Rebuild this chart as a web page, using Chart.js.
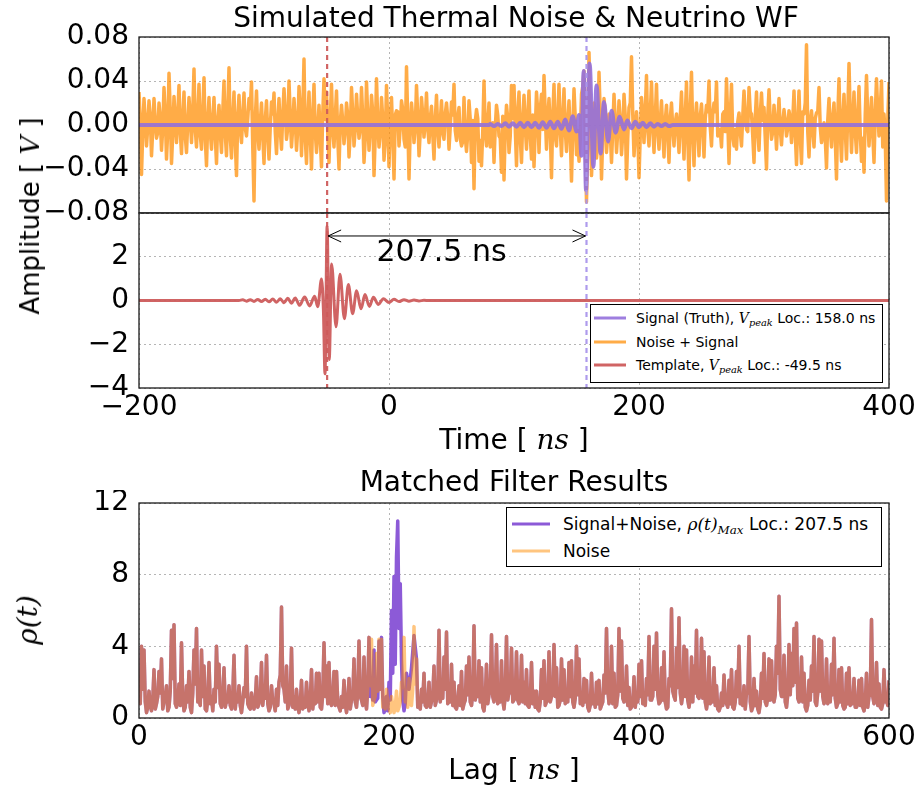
<!DOCTYPE html>
<html><head><meta charset="utf-8">
<script src="https://cdn.jsdelivr.net/npm/chart.js@4.4.0/dist/chart.umd.min.js"></script>
<style>
body{margin:0;background:#fff;width:919px;height:789px;overflow:hidden;position:relative;font-family:"DejaVu Sans",sans-serif;color:#000;}
canvas{position:absolute;left:0;}
.t{position:absolute;white-space:nowrap;transform:translate(-50%,-50%);line-height:1;}
.rot{transform:translate(-50%,-50%) rotate(-90deg);}
.m{font-family:"DejaVu Serif",serif;font-style:italic;}
.sub{font-family:"DejaVu Serif",serif;font-style:italic;font-size:70%;position:relative;top:0.3em;}
.lg{position:absolute;border:1px solid #000;background:#fff;box-sizing:border-box;}
.row{position:absolute;white-space:nowrap;line-height:1;transform:translateY(-50%);}
.ln{position:absolute;height:3px;transform:translateY(-50%);}
</style></head>
<body>
<canvas id="cTop" width="919" height="240" style="top:0px"></canvas>
<canvas id="cMid" width="919" height="260" style="top:200px"></canvas>
<canvas id="cBot" width="919" height="299" style="top:490px"></canvas>

<div class="t" style="left:516px;top:18px;font-size:28px;">Simulated Thermal Noise &amp; Neutrino WF</div>
<div class="t rot" style="left:30px;top:216px;font-size:26px;">Amplitude [ <span class="m">V</span> ]</div>
<div class="t" style="left:514px;top:440px;font-size:28px;">Time [ <span class="m">ns</span> ]</div>
<div class="t" style="left:514px;top:482px;font-size:28px;">Matched Filter Results</div>
<div class="t rot" style="left:28px;top:620px;font-size:28px;"><span class="m">ρ(t)</span></div>
<div class="t" style="left:514px;top:770px;font-size:28px;">Lag [ <span class="m">ns</span> ]</div>

<div class="lg" style="left:590px;top:304px;width:293px;height:79px;font-size:14px;">
  <div class="ln" style="left:3px;top:13px;width:32px;background:rgba(147,112,219,0.9);"></div>
  <div class="row" style="left:45px;top:13px;">Signal (Truth), <span class="m">V</span><span class="sub">peak</span> Loc.: 158.0 ns</div>
  <div class="ln" style="left:3px;top:37px;width:32px;background:rgba(255,140,0,0.72);"></div>
  <div class="row" style="left:45px;top:37px;">Noise + Signal</div>
  <div class="ln" style="left:3px;top:60px;width:32px;background:rgba(205,92,92,0.95);"></div>
  <div class="row" style="left:45px;top:60px;">Template, <span class="m">V</span><span class="sub">peak</span> Loc.: -49.5 ns</div>
</div>

<div class="lg" style="left:506px;top:507px;width:376px;height:60px;font-size:17px;">
  <div class="ln" style="left:5px;top:16px;width:38px;background:rgb(140,90,215);"></div>
  <div class="row" style="left:56px;top:16px;">Signal+Noise, <span class="m">ρ(t)</span><span class="sub">Max</span> Loc.: 207.5 ns</div>
  <div class="ln" style="left:5px;top:43px;width:38px;background:rgba(255,140,0,0.5);"></div>
  <div class="row" style="left:56px;top:43px;">Noise</div>
</div>

<script>
// ---------------- DATA ----------------
// Noise + Signal waveform, read at even ns (-200, -198, ... 400) ...
const timeStart = -200, timeStep = 2;
const noiseSignalVals = [
0.030,-0.045,0.024,-0.019,0.022,-0.028,0.024,-0.012,0.020,-0.023,
0.034,-0.031,0.047,-0.035,0.026,-0.016,0.036,-0.026,0.030,-0.025,
0.025,-0.016,0.051,-0.020,0.037,-0.022,0.043,-0.037,0.025,-0.022,
0.025,-0.035,0.018,-0.025,0.040,-0.028,0.052,-0.030,0.030,-0.046,
0.027,-0.016,0.029,-0.010,0.024,0.039,-0.069,0.031,-0.022,0.020,
-0.035,0.022,-0.031,0.021,0.029,-0.026,0.024,-0.022,0.033,-0.013,
0.040,-0.020,0.024,-0.023,0.035,-0.028,0.060,-0.035,0.030,-0.040,
0.037,-0.025,0.018,-0.038,0.042,
0.030,-0.034,0.037,-0.020,0.031,-0.040,0.018,-0.017,0.020,-0.029,
0.034,-0.019,0.028,-0.012,0.034,-0.034,0.039,-0.023,0.027,-0.046,
0.042,-0.020,0.025,-0.032,0.036,-0.038,0.025,-0.049,0.013,-0.019,
0.022,-0.013,0.053,-0.049,0.020,-0.016,0.036,-0.028,0.025,-0.011,
0.029,-0.016,0.017,-0.031,0.027,-0.020,0.022,-0.013,0.020,-0.022,
0.021,0.037,-0.014,0.016,-0.019,0.025,-0.024,0.022,-0.034,-0.058,
0.014,-0.033,-0.037,0.040,-0.019,0.020,-0.012,-0.034,0.018,-0.010,
-0.043,-0.050,0.018,-0.025,0.036,
0.036,-0.037,0.030,-0.034,0.027,-0.022,0.031,-0.031,-0.038,0.030,
-0.025,0.028,0.045,-0.022,0.024,-0.048,0.037,-0.019,0.037,-0.028,
0.033,-0.024,0.022,-0.051,0.033,-0.027,-0.033,0.028,0.049,-0.070,
0.066,-0.046,0.020,-0.030,0.048,-0.049,0.024,-0.025,0.010,-0.034,
0.028,-0.025,0.022,-0.027,0.028,-0.049,0.016,0.062,-0.028,0.012,
-0.048,0.025,-0.016,0.045,-0.019,0.039,-0.025,0.037,-0.022,0.022,
-0.029,0.018,-0.034,0.020,-0.019,0.010,-0.025,0.030,-0.031,0.039,
-0.050,0.048,-0.037,0.020,-0.028,
0.019,-0.029,0.018,0.040,-0.019,0.020,0.039,-0.005,-0.020,0.012,
0.042,-0.035,0.037,-0.019,-0.022,0.011,-0.019,0.031,-0.004,0.034,
0.010,-0.034,0.030,-0.023,0.029,0.016,-0.040,0.032,-0.013,0.018,
-0.022,0.024,-0.018,0.014,-0.010,0.013,-0.016,0.031,-0.036,0.031,
-0.035,0.010,0.073,-0.029,0.013,-0.020,0.011,0.034,-0.016,0.002,
-0.039,0.024,-0.020,0.020,-0.049,0.042,-0.033,0.028,-0.031,0.056,
-0.025,0.030,-0.025,0.035,-0.033,-0.043,0.045,-0.019,0.025,-0.034,
0.042,-0.010,0.040,0.010,-0.069,0.039
];
// ... and at odd ns (-199, -197, ... 399): the dense core of the band between spikes
const oddStart = -199;
const noiseSignalOddVals = [
0.004,-0.006,0.005,-0.002,0.008,-0.004,0.003,-0.007,0.006,-0.003,
0.010,-0.005,0.012,-0.008,0.004,0.009,-0.006,0.007,-0.010,0.002,
0.006,0.012,-0.004,0.008,-0.009,0.011,-0.012,0.003,-0.006,0.005,
-0.010,0.004,-0.007,0.012,-0.008,0.014,-0.011,0.006,-0.015,0.007,
-0.004,0.009,-0.003,0.006,0.015,-0.020,0.005,-0.006,0.002,-0.009,
0.004,-0.008,-0.002,0.010,-0.006,0.003,-0.005,0.009,0.011,-0.003,
0.008,-0.002,0.005,-0.004,0.012,0.010,-0.012,0.004,-0.010,0.009,
-0.006,-0.004,-0.012,0.010,0.005,-0.008,0.006,-0.004,0.007,-0.011,
0.002,0.003,-0.005,0.009,-0.006,0.010,-0.004,0.007,-0.002,0.006,
-0.012,0.008,-0.003,0.011,-0.009,0.004,-0.007,0.006,-0.013,0.003,
0.005,-0.010,0.009,0.012,-0.002,0.014,-0.020,0.004,-0.003,0.006,
-0.002,0.008,-0.006,0.009,0.004,-0.003,0.006,-0.008,0.005,-0.004,
0.003,-0.007,0.010,0.006,-0.002,0.009,-0.005,0.007,-0.012,-0.015,
-0.010,-0.008,0.005,0.004,0.003,0.006,-0.014,-0.006,-0.005,0.002,
-0.020,0.002,-0.002,0.009,-0.012,0.008,-0.004,0.006,-0.010,0.006,
-0.003,0.010,-0.012,0.005,-0.002,0.008,-0.010,0.009,-0.005,0.012,
0.014,-0.004,0.010,0.006,-0.004,0.008,-0.010,0.008,-0.004,0.006,
-0.004,0.002,-0.010,-0.004,0.006,-0.005,-0.012,0.035,-0.015,-0.010,
0.020,-0.020,0.012,-0.018,0.010,-0.010,0.012,-0.008,-0.006,-0.004,
0.004,-0.006,0.004,-0.008,0.008,-0.012,0.020,0.010,-0.008,-0.006,
-0.010,0.008,0.012,-0.004,0.010,-0.002,0.006,-0.005,0.003,-0.006,
0.004,-0.008,0.006,-0.003,0.002,-0.004,0.007,-0.005,0.008,-0.010,
0.012,-0.006,0.003,-0.004,0.008,-0.003,0.006,0.012,-0.002,0.010,
0.012,-0.010,-0.004,0.010,-0.006,0.005,0.008,-0.010,-0.004,0.003,
-0.006,0.008,0.010,-0.006,0.012,-0.010,0.006,-0.004,0.010,0.004,
-0.012,0.008,0.004,-0.006,0.002,0.003,-0.004,0.002,0.004,-0.003,
0.006,0.004,-0.008,0.002,-0.010,0.012,0.020,-0.006,0.002,-0.004,
0.006,0.012,-0.002,-0.010,-0.012,0.004,-0.003,0.006,-0.012,0.008,
-0.006,0.005,-0.004,0.010,0.008,0.004,-0.006,0.008,-0.008,-0.012,
0.010,0.006,0.004,-0.008,0.010,0.012,0.014,-0.020,-0.012,0.003
];

const signalTime = [-200,80,81,84,87,90,93,96,99,102,105,108,111,114,117,120,123,126,129,132,135,138,141,144,147,150,152,154,
155.7,157.6,160.5,163.5,166,169.3,172,175.3,178,181.3,184.5,188,190.7,194,197,200,203,206,209,212,215,218,221,224,227,400];
const signalVals = [0,0,0.001,-0.001,0.001,-0.001,0.0015,-0.0015,0.0015,-0.0015,0.002,-0.002,0.002,-0.002,0.002,-0.0025,0.0025,-0.0025,
0.003,-0.003,0.003,-0.0035,0.005,-0.005,0.008,-0.006,0.009,-0.028,
0.049,-0.059,0.056,-0.038,0.036,-0.026,0.021,-0.015,0.013,-0.007,0.0076,-0.004,0.004,-0.003,0.003,-0.002,0.002,-0.002,0.0015,-0.0015,
0.001,-0.001,0.001,-0.001,0,0];

const templateTime = [-200,-120,-117,-114,-111,-108,-105,-102,-99,-96,-93,-90,-87,-84,-81,-78,-75,
-71.5,-67.5,-63.5,-59.5,-57,-54,-52.5,-51.2,-49.5,-47.8,-45.9,-42.4,-39.2,-35.7,-32.5,-29.1,-25.9,-22.4,-19.2,-15.7,
-12.5,-8.5,-4.5,0,4,8,12,16,20,24,28,32,400];
const templateVals = [0,0,0.03,-0.03,0.04,-0.04,0.05,-0.05,0.06,-0.06,0.07,-0.08,0.08,-0.1,0.1,-0.12,0.12,
-0.22,0.16,-0.25,0.2,-0.28,0.98,-0.4,-3.35,3.4,-2.7,1.67,-1.2,1.2,-0.83,0.73,-0.6,0.45,-0.38,0.27,-0.27,
0.15,-0.18,0.08,-0.09,0.06,-0.05,0.04,-0.03,0.02,-0.02,0.01,0,0];

const signalPeakLoc = 158.0, templatePeakLoc = -49.5;
const lagLabel = '207.5 ns', lagLabelAt = {x: -10, y: 2.15};

// Matched-filter output (noise only), read at even ns lags ...
const lagStart = 0, lagStep = 2;
const rhoNoise = [
2.0,4.0,3.8,0.3,1.5,0.4,2.7,0.8,2.6,3.3,
0.9,1.8,0.6,4.9,5.2,0.6,1.9,4.2,0.4,1.8,
2.6,0.3,3.8,5.0,1.0,3.8,2.9,0.4,3.1,1.2,
1.6,4.0,3.0,0.6,2.8,1.0,1.8,0.5,3.5,1.3,
1.8,0.3,1.7,4.0,0.6,1.4,0.5,2.3,0.8,3.1,
1.5,3.5,0.4,1.8,0.8,1.6,2.0,6.2,1.6,2.9,
0.7,3.9,1.2,1.6,0.3,2.1,0.9,2.0,0.4,2.7,
1.2,2.5,2.5,0.5,4.2,2.9,3.1,0.7,2.6,2.6,
0.6,1.2,2.1,0.3,2.2,1.0,3.3,0.6,4.3,1.0,
3.4,0.5,4.5,4.4,1.0,3.6,4.4,4.4,0.8,1.6,
0.5,1.2,0.3,1.5,0.6,2.0,4.5,1.4,2.2,0.7,
5.1,3.3,0.8,1.6,2.5,0.6,2.0,0.9,2.9,1.0,
4.9,1.5,3.4,4.8,1.2,3.0,2.0,0.5,1.8,2.6,
0.8,2.9,3.4,0.7,5.15,1.8,3.2,2.8,0.4,3.0,
1.3,4.65,0.9,4.1,1.1,3.2,0.5,4.55,1.5,3.9,
1.0,3.7,0.8,3.5,2.0,2.7,0.6,3.1,1.5,1.5,
0.4,2.7,3.2,0.9,3.7,1.2,4.1,2.8,0.7,3.3,
2.7,1.0,3.1,3.2,0.6,4.0,3.3,1.0,2.2,2.1,
0.4,2.5,1.2,2.0,2.1,0.7,2.4,5.0,0.8,4.0,
2.5,0.7,5.0,4.3,0.9,2.9,1.7,0.6,2.3,1.3,
3.0,3.2,0.9,2.2,4.55,1.0,4.0,4.75,0.8,2.8,
3.7,0.5,2.2,6.1,1.2,3.9,5.6,0.8,4.0,3.8,
0.6,3.4,2.9,4.9,1.1,4.45,3.7,0.5,3.4,1.4,
2.8,1.8,0.4,1.4,2.4,0.8,2.1,2.7,0.5,2.6,
4.0,0.9,1.8,1.4,4.55,0.4,2.2,1.5,0.3,2.5,
3.6,0.7,3.3,3.2,0.9,4.0,6.8,1.2,3.5,0.6,
4.1,3.6,5.0,5.3,0.9,3.4,2.5,0.4,2.1,2.9,
4.55,0.7,4.4,4.3,0.8,3.3,1.6,3.0,4.45,0.6,
2.7,2.8,0.5,2.5,2.8,1.0,2.2,0.6,2.1,2.2,
0.4,2.5,1.2,5.5,0.8,3.1,1.9,0.5,2.7,1.0,
2.1
];
// ... and at odd ns lags (the low, dense floor between the spikes)
const lagOddStart = 1;
const rhoNoiseOdd = [
0.8,1.6,0.9,0.6,0.7,1.0,0.5,1.2,1.4,0.5,
1.2,0.4,1.5,2.2,0.8,1.0,0.7,1.1,0.6,0.9,
0.6,1.4,1.9,0.9,0.7,1.2,0.5,1.0,0.8,0.4,
0.9,1.7,0.8,1.1,0.6,0.9,0.7,1.3,0.5,0.9,
0.7,0.9,1.2,0.8,0.5,0.8,1.0,0.6,1.1,0.7,
1.1,0.8,0.6,0.9,0.4,0.7,2.4,1.8,0.9,0.5,
1.3,0.6,0.5,0.7,0.8,0.5,0.6,0.9,1.0,0.5,
0.8,0.9,0.6,1.3,1.2,0.8,0.9,1.1,0.7,0.9,
0.4,0.6,0.8,0.9,0.5,1.1,0.9,1.4,1.2,0.7,
1.0,1.6,1.8,0.7,1.2,1.5,1.6,0.6,0.5,0.9,
0.3,0.7,0.6,0.4,0.9,1.7,0.9,0.6,0.8,1.6,
1.9,0.6,0.5,0.9,0.7,0.8,0.6,1.2,0.7,1.3,
0.9,1.1,1.6,0.8,0.9,0.7,0.6,0.9,0.7,0.5,
1.0,1.3,0.9,1.4,1.0,1.2,0.9,0.6,1.1,0.8,
1.5,1.2,1.4,0.8,0.9,1.0,1.3,1.0,1.4,0.9,
1.2,1.0,1.1,0.9,0.8,0.7,1.0,0.8,0.6,0.5,
0.9,1.1,0.7,1.0,0.9,1.3,1.2,0.6,1.0,1.0,
0.8,0.9,1.2,0.9,1.1,1.3,0.8,0.7,0.9,0.6,
0.7,0.8,0.6,0.8,0.5,0.9,1.4,1.6,1.2,0.8,
0.6,1.3,1.5,1.1,1.0,0.7,0.5,0.8,0.6,0.9,
1.2,0.8,0.7,1.3,1.0,1.2,1.6,1.3,0.9,1.0,
0.9,0.6,1.8,1.5,1.0,1.7,1.4,1.3,1.2,1.0,
1.1,0.9,1.4,1.2,1.5,1.1,0.9,1.0,0.8,0.9,
0.7,0.5,0.6,0.7,0.9,0.6,0.8,0.6,0.9,1.2,
0.8,0.7,0.5,1.4,0.9,0.6,0.7,0.5,0.8,1.1,
0.9,1.1,1.0,1.2,1.3,2.5,1.6,1.2,0.9,1.3,
1.3,1.8,2.0,1.1,1.0,0.9,0.6,0.7,1.0,1.5,
0.9,1.4,1.5,1.2,1.0,0.8,0.9,1.3,1.1,0.8,
0.9,0.7,0.6,0.8,0.7,0.8,0.6,0.8,0.7,0.6,
0.8,0.6,1.3,1.2,1.0,0.7,0.6,0.8,0.9,0.7
];
// Signal+Noise matched-filter output: same as noise-only except near the signal lag
const rhoSigWindowLag  = [184,185,186,187,188,189,190,191,192,193,194,195,196,197,198,199,200,201,202,203,204,205,206,207,208,209,210,211,212,213,214,216,218,220,222];
const rhoSigWindowVals = [4.5,1.2,2.0,1.0,3.8,0.9,1.0,1.1,4.3,1.6,4.5,1.2,0.3,0.5,1.2,0.4,2.0,1.0,6.0,2.5,7.9,3.0,9.0,11.0,5.0,7.5,3.2,1.0,0.4,0.8,2.5,1.6,2.8,4.6,3.3];

const timeTicks = [-200,0,200,400];
const topYTicks = [-0.08,-0.04,0,0.04,0.08];
const midYTicks = [-4,-2,0,2,4];
const lagTicks = [0,200,400,600];
const rhoYTicks = [0,4,8,12];

// ---------------- HELPERS ----------------
const gridXY = (start, step, vals) => vals.map((v,i) => ({x: start + i*step, y: v}));
const pairXY = (xs, ys) => xs.map((x,i) => ({x, y: ys[i]}));
const byX = (a,b) => a.x - b.x;
const fmtMinus = s => s.replace('-', '\u2212');

const noiseSignalPts = gridXY(timeStart, timeStep, noiseSignalVals)
  .concat(gridXY(oddStart, timeStep, noiseSignalOddVals)).sort(byX);
const rhoNoisePts = gridXY(lagStart, lagStep, rhoNoise)
  .concat(gridXY(lagOddStart, lagStep, rhoNoiseOdd)).sort(byX);
const wLo = rhoSigWindowLag[0], wHi = rhoSigWindowLag[rhoSigWindowLag.length-1];
const rhoSignalNoisePts = rhoNoisePts.filter(p => p.x < wLo || p.x > wHi)
  .concat(pairXY(rhoSigWindowLag, rhoSigWindowVals)).sort(byX);

const tickFont = {family: 'DejaVu Sans', size: 28};
const gridStyle = {color: '#b5b5b5', lineWidth: 1, drawTicks: false};
const borderStyle = {display: false, dash: [2, 3]};

function yAxis(ticksArr, fmt, hideVals) {
  return {
    type: 'linear', min: ticksArr[0], max: ticksArr[ticksArr.length-1],
    afterBuildTicks: s => { s.ticks = ticksArr.map(v => ({value: v})); },
    afterFit: s => { s.width = 139; s.paddingTop = 0; s.paddingBottom = 0; s.paddingLeft = 0; s.paddingRight = 0; },
    ticks: {font: tickFont, color: '#000', padding: 10,
      callback: v => (hideVals && hideVals.includes(v)) ? '' : fmtMinus(fmt(v))},
    grid: gridStyle, border: borderStyle
  };
}
function xAxis(ticksArr, height, showLabels) {
  return {
    type: 'linear', min: ticksArr[0], max: ticksArr[ticksArr.length-1],
    afterBuildTicks: s => { s.ticks = ticksArr.map(v => ({value: v})); },
    afterFit: s => { s.height = height; s.paddingLeft = 0; s.paddingRight = 0; s.paddingTop = 0; s.paddingBottom = 0; },
    ticks: {display: showLabels, font: tickFont, color: '#000', padding: 3, maxRotation: 0,
      callback: v => fmtMinus(String(v))},
    grid: gridStyle, border: borderStyle
  };
}

const framePlugin = {
  id: 'frame',
  afterDraw(chart) {
    const {ctx, chartArea: a} = chart;
    ctx.save(); ctx.strokeStyle = '#1a1a1a'; ctx.lineWidth = 1.3;
    ctx.strokeRect(a.left, a.top, a.right - a.left, a.bottom - a.top); ctx.restore();
  }
};
const vlinePlugin = {
  id: 'vlines',
  afterDatasetsDraw(chart, args, opts) {
    if (!opts.lines) return;
    const {ctx, chartArea: a, scales} = chart;
    ctx.save();
    ctx.beginPath(); ctx.rect(a.left, a.top, a.right - a.left, a.bottom - a.top); ctx.clip();
    opts.lines.forEach(l => {
      const px = scales.x.getPixelForValue(l.x);
      ctx.strokeStyle = l.color; ctx.lineWidth = 2.2; ctx.setLineDash([5, 4]);
      ctx.beginPath(); ctx.moveTo(px, a.top); ctx.lineTo(px, a.bottom); ctx.stroke();
    });
    ctx.restore();
  }
};
const arrowPlugin = {
  id: 'lagArrow',
  afterDatasetsDraw(chart, args, opts) {
    if (!opts.show) return;
    const {ctx, scales} = chart;
    const x1 = scales.x.getPixelForValue(opts.from), x2 = scales.x.getPixelForValue(opts.to);
    const y = scales.y.getPixelForValue(opts.y);
    ctx.save(); ctx.strokeStyle = '#000'; ctx.lineWidth = 1; ctx.setLineDash([]);
    ctx.beginPath(); ctx.moveTo(x1 + 1, y); ctx.lineTo(x2 - 1, y);
    ctx.moveTo(x1 + 14, y - 6); ctx.lineTo(x1 + 1, y); ctx.lineTo(x1 + 14, y + 6);
    ctx.moveTo(x2 - 14, y - 6); ctx.lineTo(x2 - 1, y); ctx.lineTo(x2 - 14, y + 6);
    ctx.stroke();
    ctx.fillStyle = '#000'; ctx.font = '30px "DejaVu Sans"'; ctx.textAlign = 'left'; ctx.textBaseline = 'middle';
    ctx.fillText(opts.label, scales.x.getPixelForValue(opts.labelAt.x), scales.y.getPixelForValue(opts.labelAt.y));
    ctx.restore();
  }
};
Chart.register(framePlugin, vlinePlugin, arrowPlugin);

const baseOpts = {
  responsive: false, animation: false, devicePixelRatio: 1,
  plugins: {legend: {display: false}, tooltip: {enabled: false}, title: {display: false}},
  elements: {point: {radius: 0}, line: {tension: 0, borderJoinStyle: 'round'}}
};
const vlineCfg = {lines: [
  {x: templatePeakLoc, color: 'rgba(205,92,92,0.95)'},
  {x: signalPeakLoc, color: 'rgba(170,150,235,0.95)'}
]};

// Top panel: noise + signal, and true signal
new Chart(document.getElementById('cTop'), {
  type: 'line',
  data: {datasets: [
    {label: 'Signal (Truth)', data: pairXY(signalTime, signalVals), borderColor: 'rgba(147,112,219,0.9)', borderWidth: 4, fill: false, cubicInterpolationMode: 'monotone'},
    {label: 'Noise + Signal', data: noiseSignalPts, borderColor: 'rgba(255,140,0,0.72)', borderWidth: 3.5, fill: false}
  ]},
  options: Object.assign({}, baseOpts, {
    layout: {padding: {top: 37, right: 30, bottom: 27, left: 0}},
    plugins: Object.assign({}, baseOpts.plugins, {vlines: vlineCfg, lagArrow: {show: false}}),
    scales: {
      x: xAxis(timeTicks, 0, false),
      y: yAxis(topYTicks, v => v.toFixed(2))
    }
  })
});

// Middle panel: template
new Chart(document.getElementById('cMid'), {
  type: 'line',
  data: {datasets: [
    {label: 'Template', data: pairXY(templateTime, templateVals), borderColor: 'rgba(205,92,92,0.95)', borderWidth: 3, fill: false, cubicInterpolationMode: 'monotone'}
  ]},
  options: Object.assign({}, baseOpts, {
    layout: {padding: {top: 13, right: 30, bottom: 0, left: 0}},
    plugins: Object.assign({}, baseOpts.plugins, {vlines: vlineCfg,
      lagArrow: {show: true, from: templatePeakLoc, to: signalPeakLoc, y: 2.95, label: lagLabel, labelAt: lagLabelAt}}),
    scales: {
      x: xAxis(timeTicks, 72, true),
      y: yAxis(midYTicks, v => String(v), [4])
    }
  })
});

// Bottom panel: matched filter output
new Chart(document.getElementById('cBot'), {
  type: 'line',
  data: {datasets: [
    {label: 'Noise', data: rhoNoisePts, borderColor: 'rgba(255,140,0,0.5)', borderWidth: 3.5, fill: false},
    {label: 'Signal+Noise', data: rhoSignalNoisePts, borderColor: 'rgb(140,90,215)', borderWidth: 3.5, fill: false}
  ]},
  options: Object.assign({}, baseOpts, {
    layout: {padding: {top: 13, right: 30, bottom: 0, left: 0}},
    plugins: Object.assign({}, baseOpts.plugins, {lagArrow: {show: false}}),
    scales: {
      x: xAxis(lagTicks, 71, true),
      y: yAxis(rhoYTicks, v => String(v))
    }
  })
});
</script>
</body></html>
